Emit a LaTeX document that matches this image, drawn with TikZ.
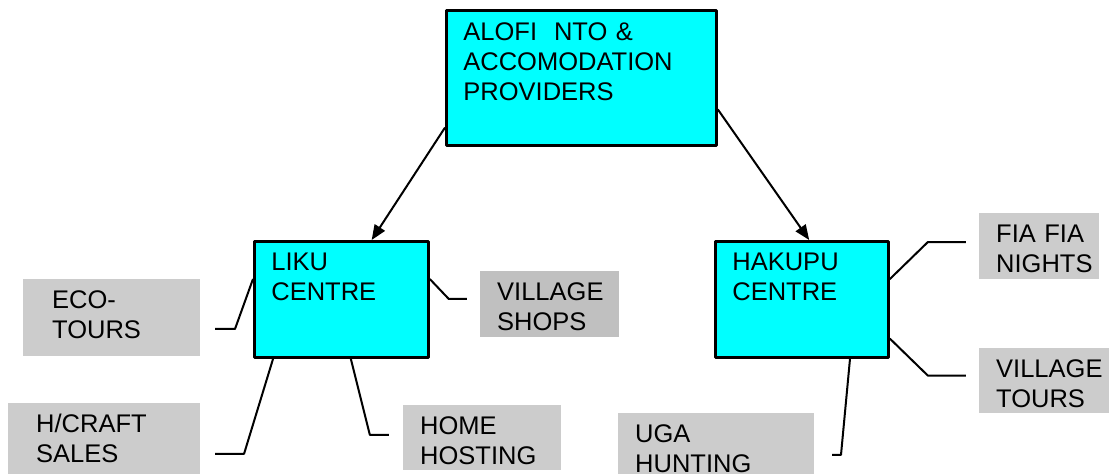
\documentclass[tikz,border=0pt]{standalone}
\usepackage{fontspec}
\setmainfont{Liberation Sans}
\usetikzlibrary{arrows.meta}
\definecolor{hopxanh}{HTML}{00FFFF}
\definecolor{hopxam}{HTML}{CCCCCC}
\definecolor{hopxamdam}{HTML}{C0C0C0}
\hyphenpenalty=10000
\begin{document}
\begin{tikzpicture}[x=1pt,y=-1pt,line join=round,>={Triangle[length=15pt,width=12pt]},
	font=\fontsize{25.5}{30}\selectfont,
	hop/.style={anchor=north west,inner xsep=17pt,inner ysep=0pt,align=left,text height=29pt},
	xanh/.style={hop,draw,line width=2.8pt,fill=hopxanh},
	xam/.style={hop,fill=hopxam},
	noi/.style={line width=2pt}]
			\useasboundingbox (0,0) rectangle (1109,474);
			%Hop xanh
			\node[xanh,text width=236pt,text height=30pt,text depth=105pt] (alofi) at (445,9) {ALOFI\ \ NTO \&\\ACCOMODATION\\PROVIDERS};
			\node[xanh,text width=140pt,text depth=87pt] (liku) at (253,240) {LIKU\\CENTRE};
			\node[xanh,text width=139pt,text depth=87pt] (hakupu) at (714,240) {HAKUPU\\CENTRE};
			
			%Hop xam
			\node[xam,inner xsep=29pt,text width=119pt,text depth=48pt] (eco) at (23,279) {ECO-\\TOURS};
			\node[xam,inner xsep=28pt,text width=136pt,text depth=50pt] (hcraft) at (8,403) {H/CRAFT\\SALES};
			\node[xam,text width=124pt,text depth=36pt] (home) at (403,405) {HOME\\HOSTING};
			\node[xam,fill=hopxamdam,text width=105pt,text depth=37pt] (shops) at (480,271) {VILLAGE\\SHOPS};
			\node[xam,text width=86pt,text depth=37pt] (fiafia) at (979,213) {FIA~FIA\\NIGHTS};
			\node[xam,text width=96pt,text depth=36pt] (tours) at (979,348) {VILLAGE\\TOURS};
			\node[xam,text width=162pt,text depth=40pt] (uga) at (618,413) {UGA\\HUNTING};
			
			%Mui ten
			\draw[noi,->] (alofi.200) -- (liku.63);
			\draw[noi,->] (alofi.347) -- (hakupu.83);
			
			%Duong noi
			\draw[noi] (liku.167) -- ++(-18,50) -- ++(-20,0);
			\draw[noi] (liku.221) -- ++(-29,95) -- ++(-29,0);
			\draw[noi] (liku.279) -- ++(19,76) -- ++(19,0);
			\draw[noi] (liku.13) -- ++(19,20) -- ++(18,0);
			\draw[noi] (hakupu.13) -- ++(38,-37) -- ++(38,0);
			\draw[noi] (hakupu.336) -- ++(38,37) -- ++(38,0);
			\draw[noi] (hakupu.309) -- ++(-9,96) -- ++(-9,0);
		\end{tikzpicture}
\end{document}
